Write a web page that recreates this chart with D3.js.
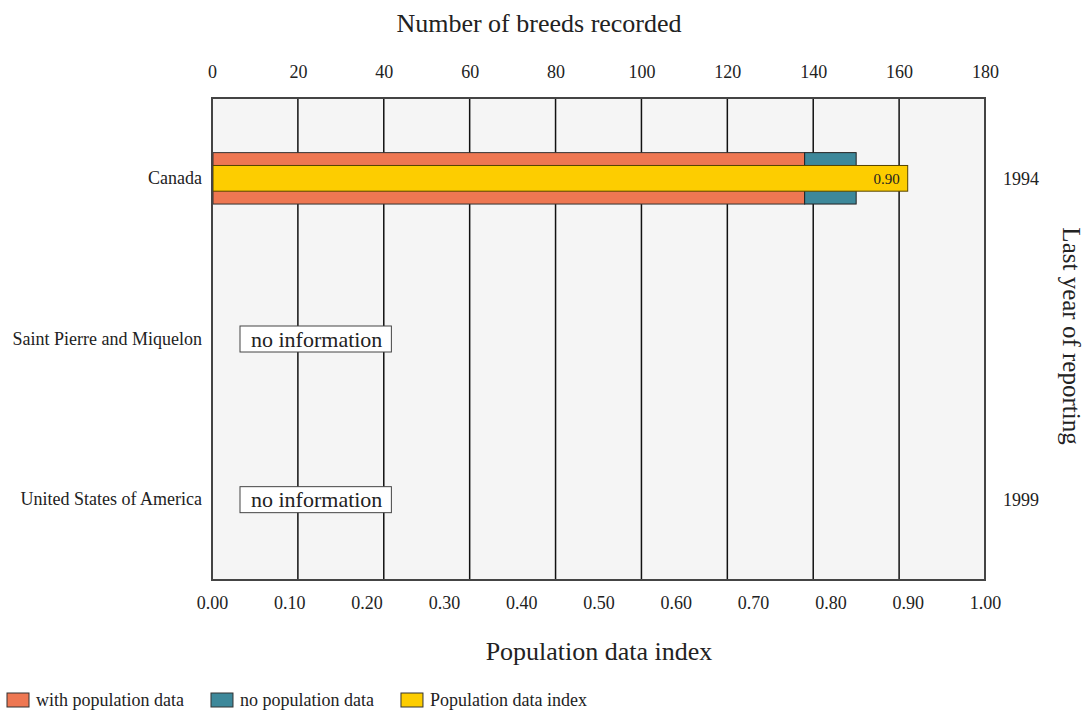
<!DOCTYPE html>
<html><head><meta charset="utf-8">
<script src="https://cdn.jsdelivr.net/npm/d3@7"></script>
<style>
body{margin:0;background:#fff;}
text{font-family:"Liberation Serif","Times New Roman",serif;fill:#222;}
</style></head>
<body><svg id="c" width="1088" height="710"></svg>
<script>
const categories = ["Canada", "Saint Pierre and Miquelon", "United States of America"];
const withPopData = [138, null, null];
const noPopData = [12, null, null];
const popIndex = [0.90, null, null];
const lastYear = ["1994", "", "1999"];
const breedTicks = [0, 20, 40, 60, 80, 100, 120, 140, 160, 180];
const indexTicks = [0, 0.1, 0.2, 0.3, 0.4, 0.5, 0.6, 0.7, 0.8, 0.9, 1.0];
const legendItems = ["with population data", "no population data", "Population data index"];
const colors = ["#ee7752", "#3d889a", "#fdcd00"];

const svg = d3.select("#c");
const m = {l: 212, r: 985, t: 98, b: 580};
const xB = d3.scaleLinear().domain([0, 180]).range([m.l, m.r]);
const xI = d3.scaleLinear().domain([0, 1]).range([m.l, m.r]);
const y = d3.scaleBand().domain(categories).range([m.t, m.b]);

svg.append("rect").attr("x", m.l).attr("y", m.t).attr("width", m.r - m.l).attr("height", m.b - m.t)
  .attr("fill", "#f5f5f5");

// grid
svg.append("g").selectAll("line").data(breedTicks.slice(1, -1)).join("line")
  .attr("x1", d => xB(d)).attr("x2", d => xB(d)).attr("y1", m.t).attr("y2", m.b)
  .attr("stroke", "#111").attr("stroke-width", 1.5);

// top axis
const topAx = svg.append("g").attr("transform", `translate(0,${m.t - 20})`)
  .call(d3.axisTop(xB).tickValues(breedTicks).tickSize(0).tickPadding(0));
topAx.select(".domain").remove();
topAx.selectAll("text").attr("font-size", 18).style("font-family", "Liberation Serif").attr("fill", "#222");

// bottom axis
const botAx = svg.append("g").attr("transform", `translate(0,${m.b + 16})`)
  .call(d3.axisBottom(xI).tickValues(indexTicks).tickFormat(d3.format(".2f")).tickSize(0).tickPadding(0));
botAx.select(".domain").remove();
botAx.selectAll("text").attr("font-size", 18).style("font-family", "Liberation Serif").attr("fill", "#222");

// left axis
const leftAx = svg.append("g").attr("transform", `translate(${m.l - 10},0)`)
  .call(d3.axisLeft(y).tickSize(0).tickPadding(0));
leftAx.select(".domain").remove();
leftAx.selectAll("text").attr("font-size", 18).style("font-family", "Liberation Serif").attr("fill", "#222");

// right labels
svg.append("g").selectAll("text").data(categories).join("text")
  .attr("x", m.r + 36).attr("y", d => y(d) + y.bandwidth() / 2).attr("dy", "0.35em")
  .attr("text-anchor", "middle").attr("font-size", 18)
  .text((d, i) => lastYear[i]);

// bars
const outerH = y.bandwidth() * 0.32, innerH = y.bandwidth() * 0.16;
const g = svg.append("g");
categories.forEach((c, i) => {
  const cy = y(c) + y.bandwidth() / 2;
  if (withPopData[i] == null) {
    const bx = xB(0) + 28;
    const t = g.append("text").attr("x", bx + 11).attr("y", cy).attr("dy", "0.35em")
      .attr("font-size", 22).text("no information");
    const w = t.node().getComputedTextLength();
    g.insert("rect", "text").attr("x", bx).attr("y", cy - 13).attr("width", w + 20).attr("height", 26)
      .attr("fill", "#fff").attr("stroke", "#444").attr("stroke-width", 1);
    return;
  }
  const x0 = xB(0) + 1;
  g.append("rect").attr("x", x0).attr("y", cy - outerH / 2).attr("width", xB(withPopData[i]) - x0)
    .attr("height", outerH).attr("fill", colors[0]).attr("stroke", "#333").attr("stroke-width", 1);
  g.append("rect").attr("x", xB(withPopData[i])).attr("y", cy - outerH / 2)
    .attr("width", xB(withPopData[i] + noPopData[i]) - xB(withPopData[i]))
    .attr("height", outerH).attr("fill", colors[1]).attr("stroke", "#222").attr("stroke-width", 1);
  g.append("rect").attr("x", x0).attr("y", cy - innerH / 2).attr("width", xI(popIndex[i]) - x0)
    .attr("height", innerH).attr("fill", colors[2]).attr("stroke", "#554400").attr("stroke-width", 1);
  g.append("text").attr("x", xI(popIndex[i]) - 8).attr("y", cy).attr("dy", "0.35em")
    .attr("text-anchor", "end").attr("font-size", 15).text(d3.format(".2f")(popIndex[i]));
});

// frame
svg.append("rect").attr("x", m.l).attr("y", m.t).attr("width", m.r - m.l).attr("height", m.b - m.t)
  .attr("fill", "none").attr("stroke", "#444").attr("stroke-width", 2);

// titles
svg.append("text").attr("x", 539).attr("y", 32).attr("text-anchor", "middle").attr("font-size", 26)
  .text("Number of breeds recorded");
svg.append("text").attr("x", 599).attr("y", 660).attr("text-anchor", "middle").attr("font-size", 26)
  .text("Population data index");
svg.append("text").attr("transform", "translate(1063,336) rotate(90)").attr("text-anchor", "middle")
  .attr("font-size", 25).text("Last year of reporting");

// legend
const leg = svg.append("g").attr("transform", "translate(7,693)");
let lx = 0;
legendItems.forEach((d, i) => {
  const it = leg.append("g").attr("transform", `translate(${lx},0)`);
  it.append("rect").attr("width", 22).attr("height", 14).attr("fill", colors[i]).attr("stroke", "#333");
  const t = it.append("text").attr("x", 29).attr("y", 7).attr("dy", "0.35em").attr("font-size", 18).text(d);
  lx += 29 + t.node().getComputedTextLength() + 27;
});
</script></body></html>
